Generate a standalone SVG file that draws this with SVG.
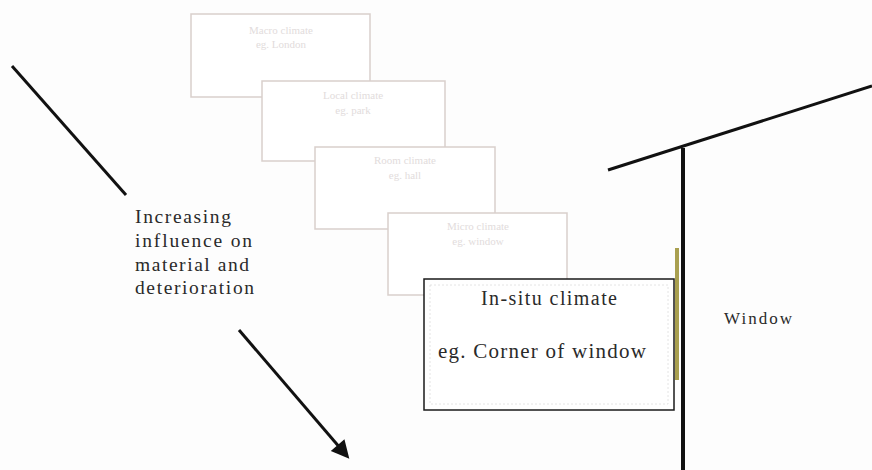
<svg xmlns="http://www.w3.org/2000/svg" width="872" height="470" viewBox="0 0 872 470">
<defs>
<style>
.faint{fill:#fff;stroke:#d9cfcc;stroke-width:1.5}
.ft{font-size:11px;fill:#e2dcdc;text-anchor:middle}
.t{fill:#2a2a2a}
.ln{stroke:#111;stroke-width:3;fill:none}
</style>
<marker id="ah" viewBox="0 0 10 10" refX="8" refY="5" markerWidth="7" markerHeight="6" orient="auto" markerUnits="strokeWidth">
<path d="M0,0 L10,5 L0,10 z" fill="#111"/>
</marker>
</defs>
<rect width="872" height="470" fill="#fdfdfd"/>
<g font-family="'Liberation Serif', 'Times New Roman', serif">
<g id="box1"><rect class="faint" x="191" y="14" width="179" height="83"/><text class="ft" x="281" y="34">Macro climate</text><text class="ft" x="281" y="48">eg. London</text></g>
<g id="box2"><rect class="faint" x="262" y="81" width="183" height="80"/><text class="ft" x="353" y="99">Local climate</text><text class="ft" x="353" y="114">eg. park</text></g>
<g id="box3"><rect class="faint" x="315" y="147" width="180" height="82"/><text class="ft" x="405" y="164">Room climate</text><text class="ft" x="405" y="179">eg. hall</text></g>
<g id="box4"><rect class="faint" x="388" y="213" width="179" height="82"/><text class="ft" x="478" y="230">Micro climate</text><text class="ft" x="478" y="245">eg. window</text></g>
<g id="main">
<rect x="424" y="279" width="250" height="131" fill="#fff" stroke="#1a1a1a" stroke-width="1.5"/>
<rect x="430" y="285" width="238" height="119" fill="none" stroke="#ddd" stroke-width="0.8" stroke-dasharray="2,2"/>
<text class="t" x="481" y="305" font-size="20" textLength="136">In-situ climate</text>
<text class="t" x="438" y="358" font-size="21" textLength="208">eg. Corner of window</text>
</g>
<g id="window">
<rect x="675" y="248" width="4" height="132" fill="#a9a050"/>
<line class="ln" x1="608" y1="170" x2="872" y2="86"/>
<line x1="683" y1="148" x2="683" y2="470" stroke="#111" stroke-width="4"/>
<text class="t" x="724" y="324" font-size="17" textLength="68">Window</text>
</g>
<g id="influence">
<text class="t" font-size="19.5"><tspan x="135" y="223" textLength="96">Increasing</tspan><tspan x="135" y="247" textLength="117">influence on</tspan><tspan x="135" y="271" textLength="114">material and</tspan><tspan x="135" y="294" textLength="119">deterioration</tspan></text>
</g>
</g>
<g id="connectors">
<line class="ln" x1="12" y1="66" x2="126" y2="195"/>
<line class="ln" x1="239" y1="330" x2="347" y2="456" marker-end="url(#ah)"/>
</g>
</svg>
